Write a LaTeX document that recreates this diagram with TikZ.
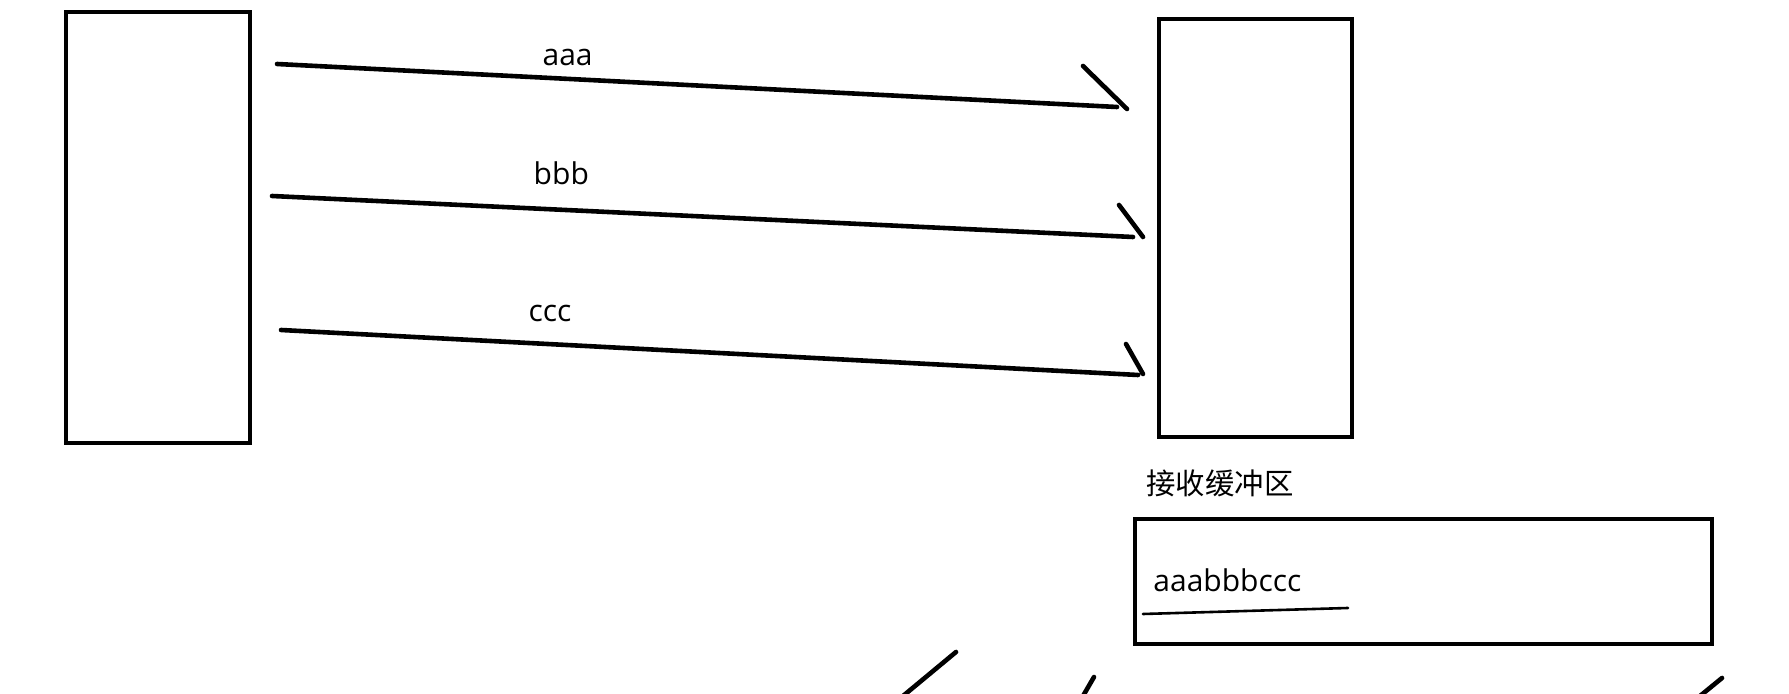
\documentclass[tikz,border=0pt]{standalone}
\usepackage{fontspec}
\setmainfont{Open Sans}
\newfontfamily\cjk{Noto Sans CJK SC}

\begin{document}
\begin{tikzpicture}[
		x=0.5pt, y=-0.5pt,
		box/.style={
			draw,
			line width=2pt,
			inner sep=0pt
		},
		msg/.style={line width=2.3pt, line cap=round, line join=round},
		lab/.style={
			font=\fontsize{15}{18}\selectfont,
			inner sep=0pt
		}
		]
		
		\useasboundingbox (0,0) rectangle (1789,694);
		
		% Boxes
		\node[box, minimum width=92pt, minimum height=215.5pt] (sender) at (158,228) {};
		\node[box, minimum width=96.5pt, minimum height=209pt] (receiver) at (1255.5,228) {};
		\node[box, minimum width=288.5pt, minimum height=62.5pt] (buffer) at (1423.5,581.5) {};
		
		% Buffer texts
		\node[lab, anchor=west, font=\cjk\fontsize{14.7}{17}\selectfont] (buftitle) at (1146,483) {接收缓冲区};
		\node[lab, anchor=base west] (bufdata) at (1153,592) {aaabbbccc};
		\draw[line width=1.3pt, line cap=round] (1143,614) -- (1348,608);
		
		% Messages
		\coordinate (a0) at (277,64);
		\coordinate (a1) at (1117,107);
		\coordinate (b0) at (272,196);
		\coordinate (b1) at (1133,237);
		\coordinate (c0) at (281,330);
		\coordinate (c1) at (1138,375);
		
		\draw[msg] (a0) -- node[lab, above=5.5pt, pos=.346] {aaa} (a1) ++(10,2) -- ++(-44,-43);
		\draw[msg] (b0) -- node[lab, above=11.5pt, pos=.336] {bbb} (b1) ++(10,0) -- ++(-24,-32);
		\draw[msg] (c0) -- node[lab, above=10pt, pos=.314] {ccc} (c1) ++(5,-1) -- ++(-17,-30);
		
		% Strokes cut off at the bottom
		\draw[msg] (903,696) -- (956,652);
		\draw[msg] (1083,696) -- (1094,677);
		\draw[msg] (1700,696) -- (1722,678);
		
	\end{tikzpicture}
\end{document}
